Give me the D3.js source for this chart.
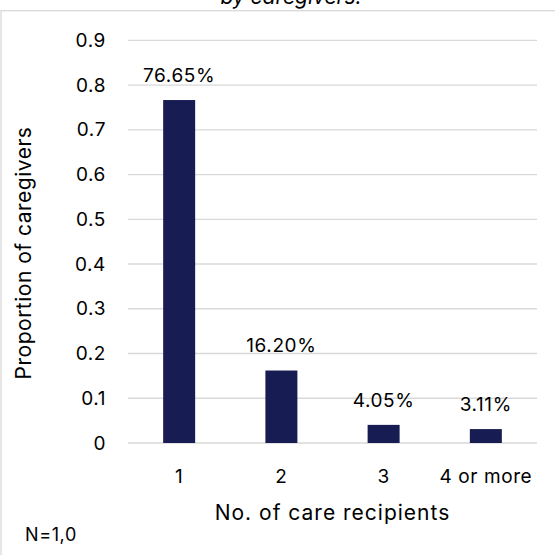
<!DOCTYPE html>
<html>
<head>
<meta charset="utf-8">
<script src="https://cdn.jsdelivr.net/npm/d3@7/dist/d3.min.js"></script>
<style>
  html, body { margin: 0; padding: 0; background: #fff; }
  svg { display: block; font-family: Inter, "Open Sans", Arial, sans-serif; }
</style>
</head>
<body>
<svg id="chart" width="555" height="555"></svg>
<script>
// Number of people each caregiver looks after
const categories = ["1", "2", "3", "4 or more"];
const proportions = [0.7665, 0.1620, 0.0405, 0.0311];
const valueLabels = ["76.65%", "16.20%", "4.05%", "3.11%"];
const yTicks = [0, 0.1, 0.2, 0.3, 0.4, 0.5, 0.6, 0.7, 0.8, 0.9];

const svg = d3.select("#chart");
const W = 555, H = 555;
const plot = { left: 128, right: 537, top: 40.3, bottom: 443 };
const FONT = "Inter, Open Sans, Arial, sans-serif";
const LABEL_SIZE = 19;

// Chart-area frame
svg.append("rect")
  .attr("x", 1).attr("y", 10.7)
  .attr("width", W + 5).attr("height", H)
  .attr("fill", "#fff")
  .attr("stroke", "#d9d9d9").attr("stroke-width", 1.3);

// Title (tail end of a longer heading)
svg.append("text")
  .attr("x", 291).attr("y", 3.5)
  .attr("text-anchor", "middle")
  .attr("font-size", 21).attr("font-style", "italic")
  .attr("fill", "#000")
  .text("by caregivers.");

const x = d3.scaleBand()
  .domain(categories)
  .range([plot.left, plot.right])
  .paddingInner(0.687).paddingOuter(0.344);

const y = d3.scaleLinear()
  .domain([0, 0.9])
  .range([plot.bottom, plot.top]);

// Gridlines
svg.append("g")
  .selectAll("line")
  .data(yTicks)
  .join("line")
  .attr("x1", plot.left).attr("x2", plot.right)
  .attr("y1", d => y(d)).attr("y2", d => y(d))
  .attr("stroke", "#d9d9d9").attr("stroke-width", 1.3);

// Y axis labels
const yAxis = d3.axisLeft(y).tickValues(yTicks).tickSize(0).tickPadding(0)
  .tickFormat(d => d === 0 ? "0" : d3.format(".1f")(d));
const gy = svg.append("g")
  .attr("transform", `translate(${plot.left - 22},0)`)
  .call(yAxis);
gy.select(".domain").remove();
gy.selectAll("text").attr("font-size", LABEL_SIZE).attr("fill", "#000")
  .attr("font-family", FONT).attr("letter-spacing", 0.6);

// X axis labels
const xAxis = d3.axisBottom(x).tickSize(0).tickPadding(0);
const gx = svg.append("g")
  .attr("transform", `translate(0,${plot.bottom + 26})`)
  .call(xAxis);
gx.select(".domain").remove();
gx.selectAll("text").attr("font-size", LABEL_SIZE).attr("fill", "#000")
  .attr("font-family", FONT).attr("letter-spacing", 0.6);

// Bars
svg.append("g")
  .selectAll("rect")
  .data(proportions)
  .join("rect")
  .attr("x", (d, i) => x(categories[i]))
  .attr("width", x.bandwidth())
  .attr("y", d => y(d))
  .attr("height", d => y(0) - y(d))
  .attr("fill", "#171d52");

// Value labels
svg.append("g")
  .selectAll("text")
  .data(proportions)
  .join("text")
  .attr("x", (d, i) => x(categories[i]) + x.bandwidth() / 2)
  .attr("y", d => y(d) - 18.3)
  .attr("text-anchor", "middle")
  .attr("font-size", LABEL_SIZE).attr("letter-spacing", 0.6).attr("fill", "#000")
  .text((d, i) => valueLabels[i]);

// Axis titles
svg.append("text")
  .attr("x", (plot.left + plot.right) / 2).attr("y", 520)
  .attr("text-anchor", "middle")
  .attr("font-size", 21).attr("letter-spacing", 1).attr("fill", "#000")
  .text("No. of care recipients");

svg.append("text")
  .attr("transform", `translate(31,253) rotate(-90)`)
  .attr("text-anchor", "middle")
  .attr("font-size", 21).attr("letter-spacing", 0.5).attr("fill", "#000")
  .text("Proportion of caregivers");

// Sample size note
svg.append("text")
  .attr("x", 25).attr("y", 541)
  .attr("font-size", 18).attr("letter-spacing", 0.6).attr("fill", "#000")
  .text("N=1,0");
</script>
</body>
</html>
